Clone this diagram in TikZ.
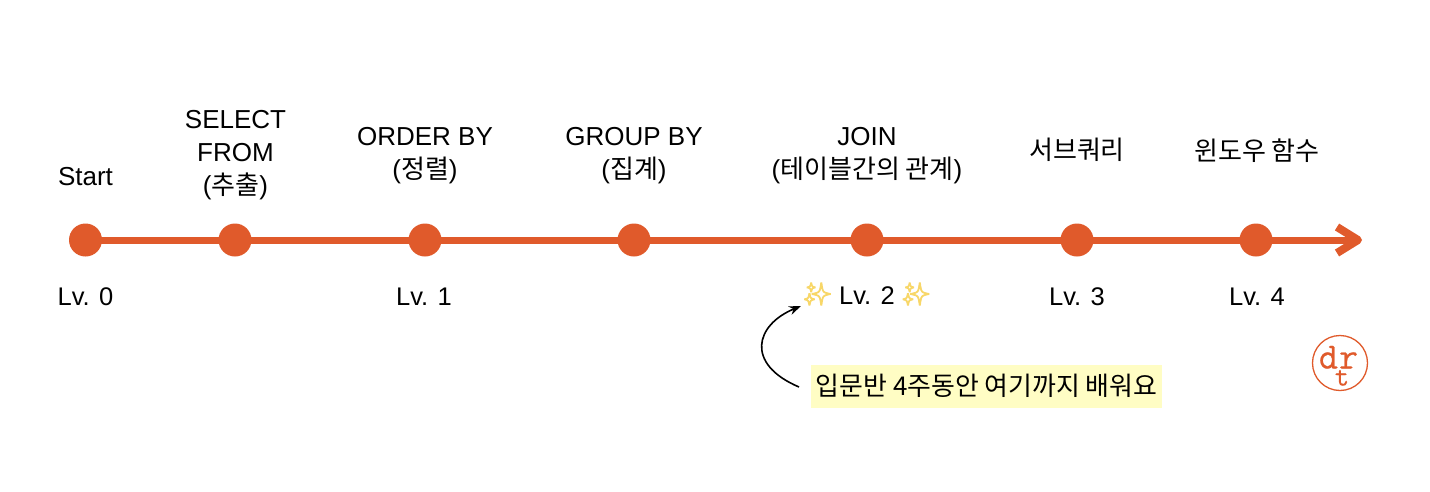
\documentclass[tikz,border=0pt]{standalone}
\usepackage{fontspec}
\setmainfont{Liberation Sans}
\newfontfamily\krfont{Noto Sans CJK KR}
\newfontfamily\sparkfont[FakeBold=4]{Noto Emoji}
\newfontfamily\slabfont[FakeBold=0.6]{Latin Modern Mono}
\usetikzlibrary{arrows.meta}
\definecolor{tl}{HTML}{E05A2B}
\definecolor{hl}{HTML}{FFFDC4}
\definecolor{spark}{HTML}{F8D768}
\newcommand{\kr}[1]{{\krfont #1}}
\tikzset{
  dot/.style={circle,fill=tl,minimum size=33pt,inner sep=0pt},
  lbl/.style={inner sep=0pt,align=center,font=\fontsize{26}{33}\selectfont,text=black},
  lv/.style={inner sep=0pt,font=\fontsize{25.5}{30}\selectfont,text=black},
  sparkle/.style={inner sep=0pt,text=spark,font=\sparkfont\fontsize{22}{22}\selectfont},
  logo/.style={inner sep=0pt,text=tl,anchor=base,font=\slabfont\fontsize{37}{37}\selectfont}
}
\begin{document}
\begin{tikzpicture}[x=1pt,y=-1pt]
\useasboundingbox[fill=white] (0,0) rectangle (1430,491);
\node[dot] (n0) at (85.5,240) {};
\node[dot] (n1) at (235,240) {};
\node[dot] (n2) at (425,240) {};
\node[dot] (n3) at (634,240) {};
\node[dot] (n4) at (867,240) {};
\node[dot] (n5) at (1077,240) {};
\node[dot] (n6) at (1256,240) {};
\coordinate (tip) at (1358,240);
\coordinate (ta) at (1337,227);
\coordinate (tb) at (1337,253);
\draw[tl,line width=7pt] (n0.center) -- (tip);
\draw[tl,line width=8pt,line join=round] (ta) -- (tip) -- (tb);
\node[lbl] (t0) at (85.5,177) {Start};
\node[lbl] (t1) at (235.5,155.5) {SELECT\\FROM\\(\kr{추출})};
\node[lbl] (t2) at (425,155.5) {ORDER BY\\(\kr{정렬})};
\node[lbl] (t3) at (634,155.5) {GROUP BY\\(\kr{집계})};
\node[lbl] (t4) at (867,155.5) {JOIN\\(\kr{테이블간의 관계})};
\node[lbl] (t5) at (1077,149.5) {\kr{서브쿼리}};
\node[lbl] (t6) at (1257,150.5) {\kr{윈도우 함수}};
\node[lv] (l0) at (85.5,297) {Lv. 0};
\node[lv] (l1) at (424,297) {Lv. 1};
\node[lv] (l2) at (867,295.5) {Lv. 2};
\node[lv] (l3) at (1077,297) {Lv. 3};
\node[lv] (l4) at (1257,297) {Lv. 4};
\node[sparkle] (s1) at (817.5,294) {✨};
\node[sparkle] (s2) at (916,294) {✨};
\node[fill=hl,minimum width=351pt,minimum height=43pt,inner sep=0pt,text=black,font=\krfont\fontsize{25.9}{30}\selectfont] (note) at (986.5,386) {입문반 4주동안 여기까지 배워요};
\coordinate (cs) at (799,387);
\coordinate (ce) at (801,306);
\draw[black,line width=1.6pt,-{Stealth[length=12pt,width=9pt]}] (cs) .. controls (745,364) and (755,325) .. (ce);
\node[draw=tl,line width=1.3pt,circle,minimum size=55pt,inner sep=0pt] (lc) at (1340,363) {};
\node[logo] (ld) at (1328.5,368.5) {d};
\node[logo] (lr) at (1348.5,368.5) {r};
\node[logo,font=\slabfont\fontsize{28}{28}\selectfont] (lt) at (1342,385.5) {t};
\end{tikzpicture}
\end{document}
